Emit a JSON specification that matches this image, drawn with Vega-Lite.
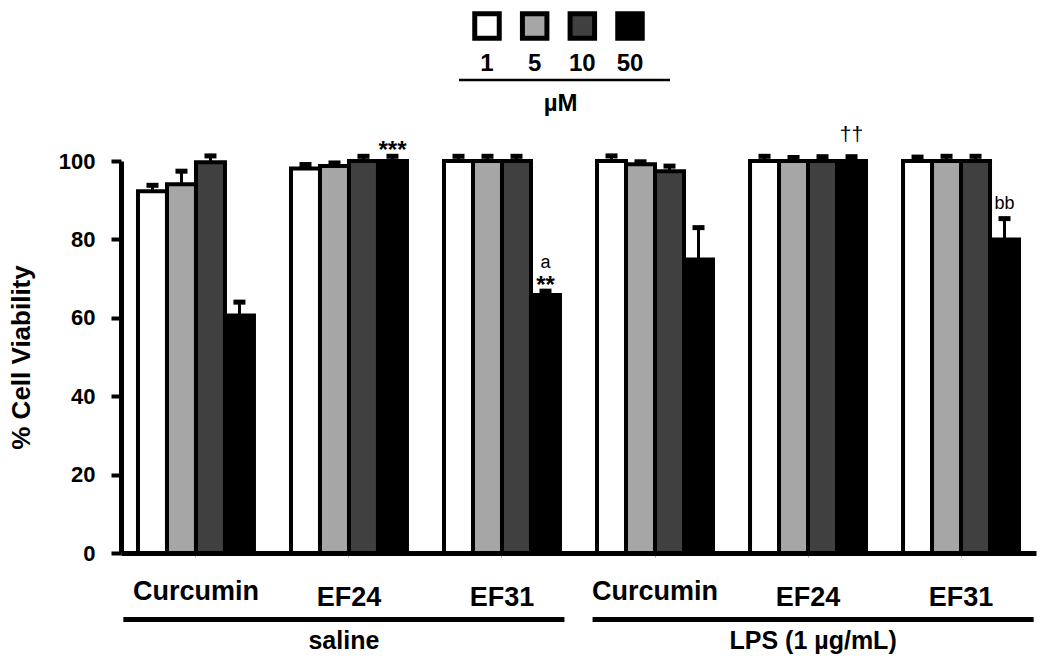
{
  "$schema": "https://vega.github.io/schema/vega-lite/v6.json",
  "padding": {"left": 8, "top": 3, "right": 5, "bottom": 5},
  "bounds": "flush",
  "spacing": 45,
  "config": {"view": {"stroke": null}, "font": "Liberation Sans"},
  "resolve": {"scale": {"x": "independent", "y": "independent"}},
  "datasets": {
    "cells": [
      {"grp": "saline|Curcumin", "conc": "1", "value": 92.3, "upper": 93.8},
      {"grp": "saline|Curcumin", "conc": "5", "value": 94.1, "upper": 97.4},
      {"grp": "saline|Curcumin", "conc": "10", "value": 99.7, "upper": 101.3},
      {"grp": "saline|Curcumin", "conc": "50", "value": 60.6, "upper": 64.0},
      {"grp": "saline|EF24", "conc": "1", "value": 98.1, "upper": 99.1},
      {"grp": "saline|EF24", "conc": "5", "value": 98.7, "upper": 99.5},
      {"grp": "saline|EF24", "conc": "10", "value": 100, "upper": 101.2},
      {"grp": "saline|EF24", "conc": "50", "value": 100, "upper": 101.2, "stars": "***"},
      {"grp": "saline|EF31", "conc": "1", "value": 100, "upper": 101.2},
      {"grp": "saline|EF31", "conc": "5", "value": 100, "upper": 101.2},
      {"grp": "saline|EF31", "conc": "10", "value": 100, "upper": 101.2},
      {"grp": "saline|EF31", "conc": "50", "value": 65.8, "upper": 66.8, "stars": "**", "letter": "a"},
      {"grp": "LPS|Curcumin", "conc": "1", "value": 100, "upper": 101.3},
      {"grp": "LPS|Curcumin", "conc": "5", "value": 99.2, "upper": 99.8},
      {"grp": "LPS|Curcumin", "conc": "10", "value": 97.4, "upper": 98.7},
      {"grp": "LPS|Curcumin", "conc": "50", "value": 74.9, "upper": 83.0},
      {"grp": "LPS|EF24", "conc": "1", "value": 100, "upper": 101.2},
      {"grp": "LPS|EF24", "conc": "5", "value": 100, "upper": 100.9},
      {"grp": "LPS|EF24", "conc": "10", "value": 100, "upper": 101.1},
      {"grp": "LPS|EF24", "conc": "50", "value": 100, "upper": 101.1, "letter": "††"},
      {"grp": "LPS|EF31", "conc": "1", "value": 100, "upper": 101.0},
      {"grp": "LPS|EF31", "conc": "5", "value": 100, "upper": 101.2},
      {"grp": "LPS|EF31", "conc": "10", "value": 100, "upper": 101.2},
      {"grp": "LPS|EF31", "conc": "50", "value": 80.0, "upper": 85.3, "letter": "bb"}
    ],
    "legend": [{"conc": "1"}, {"conc": "5"}, {"conc": "10"}, {"conc": "50"}],
    "groups": [{"treatment": "saline"}, {"treatment": "LPS (1 µg/mL)"}]
  },
  "vconcat": [
    {
      "width": 915,
      "height": 110,
      "data": {"name": "legend"},
      "encoding": {
        "x": {"field": "conc", "type": "ordinal", "sort": ["1", "5", "10", "50"],
              "scale": {"type": "point", "domain": ["1", "5", "10", "50"], "padding": 0, "range": [366, 509]}, "axis": null}
      },
      "layer": [
        {
          "mark": {"type": "point", "shape": "square", "filled": true, "size": 600, "stroke": "black", "strokeWidth": 5, "opacity": 1},
          "encoding": {
            "y": {"datum": 20, "type": "quantitative", "scale": {"domain": [0, 110], "reverse": true, "nice": false}, "axis": null},
            "fill": {"field": "conc", "type": "ordinal", "scale": {"domain": ["1", "5", "10", "50"], "range": ["#ffffff", "#a6a6a6", "#404040", "#000000"]}, "legend": null}
          }
        },
        {
          "mark": {"type": "text", "fontSize": 24, "fontWeight": "bold", "baseline": "middle", "color": "black"},
          "encoding": {"y": {"datum": 58, "type": "quantitative"}, "text": {"field": "conc"}}
        },
        {
          "data": {"values": [{}]},
          "mark": {"type": "rule", "strokeWidth": 2.5, "color": "black", "xOffset": -28, "x2Offset": 40},
          "encoding": {"x": {"datum": "1"}, "x2": {"datum": "50"}, "y": {"datum": 74, "type": "quantitative"}}
        },
        {
          "data": {"values": [{"unit": "µM"}]},
          "mark": {"type": "text", "fontSize": 24, "fontWeight": "bold", "baseline": "middle", "color": "black", "dx": 26},
          "encoding": {"x": {"datum": "5"}, "y": {"datum": 98, "type": "quantitative"}, "text": {"field": "unit"}}
        }
      ]
    },
    {
      "width": 915,
      "height": 392,
      "data": {"name": "cells"},
      "encoding": {
        "x": {
          "field": "grp", "type": "nominal",
          "sort": ["saline|Curcumin", "saline|EF24", "saline|EF31", "LPS|Curcumin", "LPS|EF24", "LPS|EF31"],
          "scale": {"paddingInner": 0.242, "paddingOuter": 0.111},
          "axis": {
            "title": null, "labelAngle": 0,
            "labelExpr": "split(datum.label, '|')[1]",
            "labelFontSize": 27, "labelFontWeight": "bold", "labelColor": "black",
            "labelPadding": {"condition": {"test": "indexof(datum.label, 'Curcumin') >= 0", "value": 21}, "value": 27},
            "domainColor": "black", "domainWidth": 5,
            "tickColor": "#aaaaaa", "tickSize": 4, "tickWidth": 1
          }
        },
        "xOffset": {"field": "conc", "type": "ordinal", "sort": ["1", "5", "10", "50"], "scale": {"paddingInner": 0, "paddingOuter": 0}}
      },
      "layer": [
        {
          "mark": {"type": "rule", "strokeWidth": 3, "color": "black"},
          "encoding": {
            "y": {"field": "value", "type": "quantitative",
                  "scale": {"domain": [0, 100], "nice": false},
                  "axis": {
                    "title": "% Cell Viability", "values": [0, 20, 40, 60, 80, 100], "grid": false,
                    "domainColor": "black", "domainWidth": 5,
                    "tickColor": "black", "tickWidth": 4, "tickSize": 10,
                    "labelFontSize": 22, "labelFontWeight": "bold", "labelColor": "black", "labelPadding": 16,
                    "titleFontSize": 26, "titleFontWeight": "bold", "titleColor": "black", "titlePadding": 24
                  }},
            "y2": {"field": "upper"}
          }
        },
        {
          "mark": {"type": "bar", "stroke": "black", "strokeWidth": 4},
          "encoding": {
            "y": {"field": "value", "type": "quantitative"},
            "fill": {"field": "conc", "type": "ordinal", "scale": {"domain": ["1", "5", "10", "50"], "range": ["#ffffff", "#a6a6a6", "#404040", "#000000"]}, "legend": null}
          }
        },
        {
          "mark": {"type": "tick", "orient": "horizontal", "thickness": 5, "color": "black", "opacity": 1},
          "encoding": {"y": {"field": "upper", "type": "quantitative"}, "size": {"value": 12}}
        },
        {
          "transform": [{"filter": "datum.stars"}],
          "mark": {"type": "text", "fontSize": 24, "fontWeight": "bold", "baseline": "alphabetic", "color": "black", "dy": 1.5},
          "encoding": {"y": {"field": "upper", "type": "quantitative"}, "text": {"field": "stars"}}
        },
        {
          "transform": [{"filter": "datum.letter == 'a'"}],
          "mark": {"type": "text", "fontSize": 18, "baseline": "alphabetic", "color": "black", "dy": -23},
          "encoding": {"y": {"field": "upper", "type": "quantitative"}, "text": {"field": "letter"}}
        },
        {
          "transform": [{"filter": "datum.letter == 'bb'"}],
          "mark": {"type": "text", "fontSize": 18, "baseline": "alphabetic", "color": "black", "dy": -9.6},
          "encoding": {"y": {"field": "upper", "type": "quantitative"}, "text": {"field": "letter"}}
        },
        {
          "transform": [{"filter": "datum.letter == '††'"}],
          "mark": {"type": "text", "fontSize": 21, "baseline": "alphabetic", "color": "black", "dy": -16, "letterSpacing": -3},
          "encoding": {"y": {"field": "upper", "type": "quantitative"}, "text": {"field": "letter"}}
        }
      ]
    },
    {
      "width": 915,
      "height": 63,
      "data": {"name": "groups"},
      "encoding": {
        "x": {"field": "treatment", "type": "nominal", "sort": ["saline", "LPS (1 µg/mL)"],
              "scale": {"paddingInner": 0.06, "paddingOuter": 0.005}, "axis": null}
      },
      "layer": [
        {
          "mark": {"type": "bar", "color": "black"},
          "encoding": {
            "y": {"datum": 19, "type": "quantitative", "scale": {"domain": [0, 63], "reverse": true, "nice": false}, "axis": null},
            "y2": {"datum": 24}
          }
        },
        {
          "mark": {"type": "text", "fontSize": 25, "fontWeight": "bold", "baseline": "alphabetic", "color": "black"},
          "encoding": {"y": {"datum": 51, "type": "quantitative"}, "text": {"field": "treatment"}}
        }
      ]
    }
  ]
}
